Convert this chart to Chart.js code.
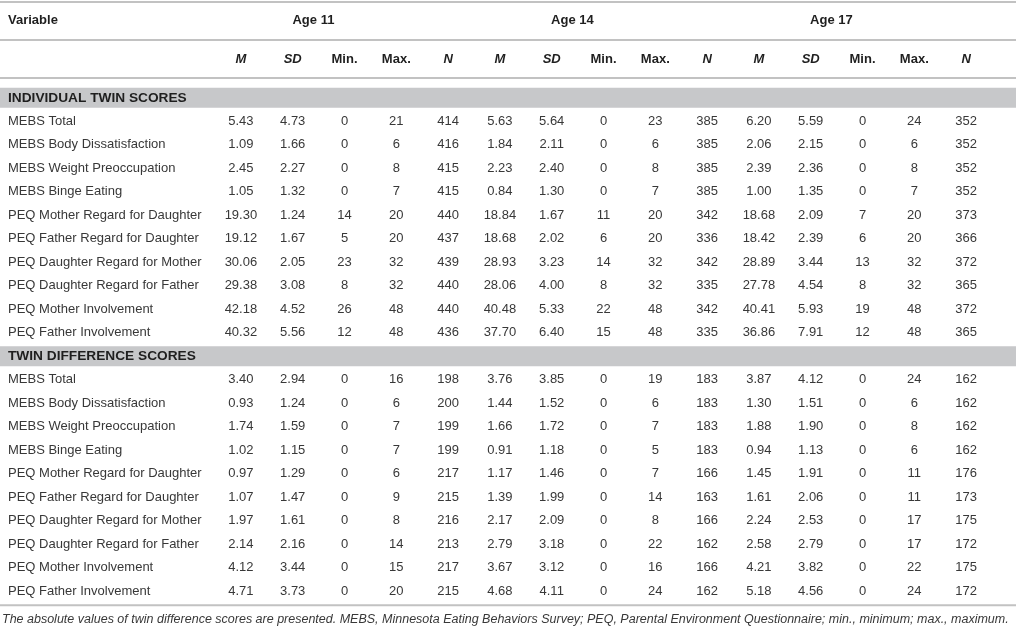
<!DOCTYPE html>
<html>
<head>
<meta charset="utf-8">
<script src="https://cdn.jsdelivr.net/npm/chart.js@4.4.0/dist/chart.umd.min.js"></script>
<style>
  html, body { margin: 0; padding: 0; background: #fff; }
  #wrap { position: relative; width: 1016px; height: 635px; }
</style>
</head>
<body>
<div id="wrap"><canvas id="myTable"></canvas></div>
<script>
// table content
const sections = ["INDIVIDUAL TWIN SCORES", "TWIN DIFFERENCE SCORES"];
const variables = [
  "MEBS Total",
  "MEBS Body Dissatisfaction",
  "MEBS Weight Preoccupation",
  "MEBS Binge Eating",
  "PEQ Mother Regard for Daughter",
  "PEQ Father Regard for Daughter",
  "PEQ Daughter Regard for Mother",
  "PEQ Daughter Regard for Father",
  "PEQ Mother Involvement",
  "PEQ Father Involvement"
];
const ages = ["Age 11", "Age 14", "Age 17"];
const stats = ["M", "SD", "Min.", "Max.", "N"];
const footnote = "The absolute values of twin difference scores are presented. MEBS, Minnesota Eating Behaviors Survey; PEQ, Parental Environment Questionnaire; min., minimum; max., maximum.";

// rows: M, SD, Min., Max., N
const age11Individual = [
  [5.43, 4.73, 0, 21, 414],
  [1.09, 1.66, 0, 6, 416],
  [2.45, 2.27, 0, 8, 415],
  [1.05, 1.32, 0, 7, 415],
  [19.30, 1.24, 14, 20, 440],
  [19.12, 1.67, 5, 20, 437],
  [30.06, 2.05, 23, 32, 439],
  [29.38, 3.08, 8, 32, 440],
  [42.18, 4.52, 26, 48, 440],
  [40.32, 5.56, 12, 48, 436]
];
const age14Individual = [
  [5.63, 5.64, 0, 23, 385],
  [1.84, 2.11, 0, 6, 385],
  [2.23, 2.40, 0, 8, 385],
  [0.84, 1.30, 0, 7, 385],
  [18.84, 1.67, 11, 20, 342],
  [18.68, 2.02, 6, 20, 336],
  [28.93, 3.23, 14, 32, 342],
  [28.06, 4.00, 8, 32, 335],
  [40.48, 5.33, 22, 48, 342],
  [37.70, 6.40, 15, 48, 335]
];
const age17Individual = [
  [6.20, 5.59, 0, 24, 352],
  [2.06, 2.15, 0, 6, 352],
  [2.39, 2.36, 0, 8, 352],
  [1.00, 1.35, 0, 7, 352],
  [18.68, 2.09, 7, 20, 373],
  [18.42, 2.39, 6, 20, 366],
  [28.89, 3.44, 13, 32, 372],
  [27.78, 4.54, 8, 32, 365],
  [40.41, 5.93, 19, 48, 372],
  [36.86, 7.91, 12, 48, 365]
];
const age11Difference = [
  [3.40, 2.94, 0, 16, 198],
  [0.93, 1.24, 0, 6, 200],
  [1.74, 1.59, 0, 7, 199],
  [1.02, 1.15, 0, 7, 199],
  [0.97, 1.29, 0, 6, 217],
  [1.07, 1.47, 0, 9, 215],
  [1.97, 1.61, 0, 8, 216],
  [2.14, 2.16, 0, 14, 213],
  [4.12, 3.44, 0, 15, 217],
  [4.71, 3.73, 0, 20, 215]
];
const age14Difference = [
  [3.76, 3.85, 0, 19, 183],
  [1.44, 1.52, 0, 6, 183],
  [1.66, 1.72, 0, 7, 183],
  [0.91, 1.18, 0, 5, 183],
  [1.17, 1.46, 0, 7, 166],
  [1.39, 1.99, 0, 14, 163],
  [2.17, 2.09, 0, 8, 166],
  [2.79, 3.18, 0, 22, 162],
  [3.67, 3.12, 0, 16, 166],
  [4.68, 4.11, 0, 24, 162]
];
const age17Difference = [
  [3.87, 4.12, 0, 24, 162],
  [1.30, 1.51, 0, 6, 162],
  [1.88, 1.90, 0, 8, 162],
  [0.94, 1.13, 0, 6, 162],
  [1.45, 1.91, 0, 11, 176],
  [1.61, 2.06, 0, 11, 173],
  [2.24, 2.53, 0, 17, 175],
  [2.58, 2.79, 0, 17, 172],
  [4.21, 3.82, 0, 22, 175],
  [5.18, 4.56, 0, 24, 172]
];

const FONT = "'Liberation Sans', Arial, Helvetica, sans-serif";
const TEXT = "#383838";
const HEAD = "#1f1f1f";
const BAND = "#c7c8ca";
const RULE = "#c2c2c2";

// row labels for the y axis: section header followed by its variables
const rowLabels = [sections[0], ...variables, sections[1], ...variables];
const sectionRows = [0, variables.length + 1];
// column labels for the x axis
const colLabels = [];
ages.forEach(() => stats.forEach(s => colLabels.push(s)));

const byAge = [
  [age11Individual, age11Difference],
  [age14Individual, age14Difference],
  [age17Individual, age17Difference]
];

// one scatter dataset per column, one invisible point per cell
const datasets = [];
byAge.forEach((parts, a) => {
  stats.forEach((s, si) => {
    const pts = [];
    parts.forEach((rows, sec) => {
      rows.forEach((vals, r) => {
        pts.push({ x: a * stats.length + si, y: sectionRows[sec] + 1 + r, v: vals[si], dec: si < 2 ? 2 : 0 });
      });
    });
    datasets.push({ label: ages[a] + " " + s, data: pts, pointRadius: 0, pointHoverRadius: 0 });
  });
});

const tablePlugin = {
  id: "tableDraw",
  beforeDraw(chart) {
    const ctx = chart.ctx;
    const y = chart.scales.y;
    const x = chart.scales.x;
    const W = chart.width;
    ctx.save();
    ctx.fillStyle = "#fff";
    ctx.fillRect(0, 0, W, chart.height);

    // grey section bands
    ctx.fillStyle = BAND;
    sectionRows.forEach(r => {
      const py = y.getPixelForValue(r);
      ctx.fillRect(0, py - 10, W, 20);
    });

    // horizontal rules
    ctx.strokeStyle = RULE;
    ctx.lineWidth = 2;
    const lastRow = y.getPixelForValue(rowLabels.length - 1);
    [2, 40, 78, lastRow + 14].forEach(py => {
      ctx.beginPath();
      ctx.moveTo(0, py);
      ctx.lineTo(W, py);
      ctx.stroke();
    });

    // top header line
    ctx.fillStyle = HEAD;
    ctx.textBaseline = "middle";
    ctx.font = "bold 13px " + FONT;
    ctx.textAlign = "left";
    ctx.fillText("Variable", 8, 20);
    ctx.textAlign = "center";
    ages.forEach((age, a) => {
      ctx.fillText(age, x.getPixelForValue(a * stats.length + 1.4), 20);
    });

    // footnote
    ctx.fillStyle = TEXT;
    ctx.textAlign = "left";
    ctx.font = "italic 12.5px " + FONT;
    ctx.fillText(footnote, 2, lastRow + 28);
    ctx.restore();
  },
  afterDatasetsDraw(chart) {
    const ctx = chart.ctx;
    ctx.save();
    ctx.font = "13px " + FONT;
    ctx.fillStyle = TEXT;
    ctx.textAlign = "center";
    ctx.textBaseline = "middle";
    chart.data.datasets.forEach((ds, i) => {
      const meta = chart.getDatasetMeta(i);
      meta.data.forEach((pt, j) => {
        const cell = ds.data[j];
        ctx.fillText(cell.v.toFixed(cell.dec), pt.x, pt.y);
      });
    });
    ctx.restore();
  }
};

new Chart(document.getElementById("myTable").getContext("2d"), {
  type: "scatter",
  data: { datasets: datasets },
  plugins: [tablePlugin],
  options: {
    responsive: true,
    maintainAspectRatio: false,
    animation: false,
    parsing: false,
    normalized: true,
    events: [],
    layout: { padding: { left: 8, right: 24, top: 0, bottom: 32 } },
    plugins: { legend: { display: false }, tooltip: { enabled: false } },
    scales: {
      x: {
        type: "category",
        labels: colLabels,
        position: "top",
        offset: true,
        grid: { display: false, drawTicks: false },
        border: { display: false },
        ticks: {
          autoSkip: false,
          maxRotation: 0,
          padding: 19,
          color: HEAD,
          font: (c) => ({
            family: FONT,
            size: 13,
            weight: "bold",
            style: ["M", "SD", "N"].includes(colLabels[c.index]) ? "italic" : "normal"
          })
        },
        afterFit: (scale) => { scale.height = 86; }
      },
      y: {
        type: "category",
        labels: rowLabels,
        position: "left",
        offset: true,
        grid: { display: false, drawTicks: false },
        border: { display: false },
        ticks: {
          autoSkip: false,
          crossAlign: "far",
          padding: 0,
          color: (c) => sectionRows.includes(c.index) ? HEAD : TEXT,
          font: (c) => ({
            family: FONT,
            size: sectionRows.includes(c.index) ? 13.7 : 13,
            weight: sectionRows.includes(c.index) ? "bold" : "normal"
          })
        },
        afterFit: (scale) => { scale.width = 207; }
      }
    }
  }
});
</script>
</body>
</html>
